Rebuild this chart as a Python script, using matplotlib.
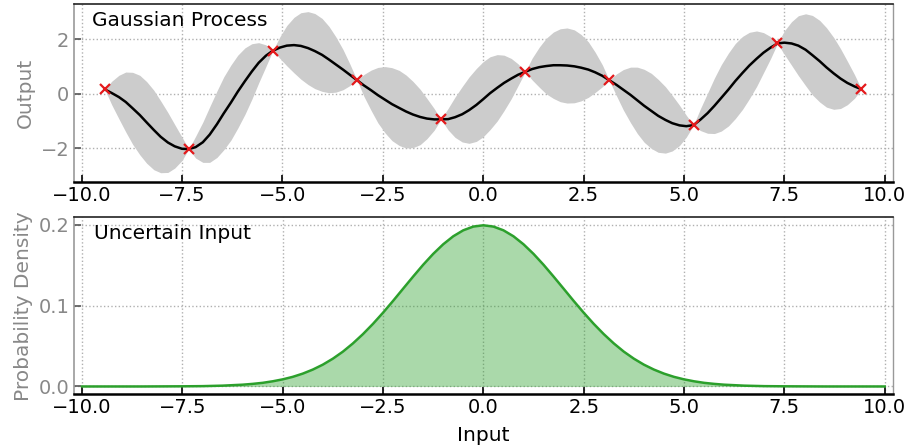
import matplotlib
matplotlib.use("Agg")
import matplotlib.pyplot as plt

# points d'entrainement (rouge)
x_train = [-9.42, -7.33, -5.24, -3.14, -1.05, 1.05, 3.14, 5.24, 7.33, 9.42]
y_train = [0.16, -2.03, 1.58, 0.50, -0.94, 0.81, 0.50, -1.15, 1.85, 0.17]

# moyenne du processus gaussien (12 pas par intervalle)
x_gp = [-9.42, -9.25, -9.07, -8.90, -8.73, -8.55, -8.38, -8.20, -8.03, -7.85, -7.68, -7.50,
        -7.33, -7.16, -6.98, -6.81, -6.63, -6.46, -6.28, -6.11, -5.93, -5.76, -5.59, -5.41,
        -5.24, -5.06, -4.89, -4.71, -4.54, -4.36, -4.19, -4.01, -3.84, -3.67, -3.49, -3.32,
        -3.14, -2.97, -2.79, -2.62, -2.44, -2.27, -2.09, -1.92, -1.75, -1.57, -1.40, -1.22,
        -1.05, -0.87, -0.70, -0.52, -0.35, -0.17, 0.00, 0.17, 0.35, 0.52, 0.70, 0.87,
        1.05, 1.22, 1.40, 1.57, 1.75, 1.92, 2.09, 2.27, 2.44, 2.62, 2.79, 2.97,
        3.14, 3.32, 3.49, 3.67, 3.84, 4.01, 4.19, 4.36, 4.54, 4.71, 4.89, 5.06,
        5.24, 5.41, 5.59, 5.76, 5.93, 6.11, 6.28, 6.46, 6.63, 6.81, 6.98, 7.16,
        7.33, 7.50, 7.68, 7.85, 8.03, 8.20, 8.38, 8.55, 8.73, 8.90, 9.07, 9.25, 9.42]
mean_gp = [0.16, 0.03, -0.12, -0.30, -0.53, -0.78, -1.05, -1.33, -1.58, -1.79, -1.93, -2.02,
           -2.03, -1.96, -1.78, -1.50, -1.12, -0.72, -0.32, 0.08, 0.47, 0.82, 1.14, 1.40,
           1.58, 1.70, 1.77, 1.79, 1.76, 1.68, 1.57, 1.43, 1.26, 1.08, 0.89, 0.70,
           0.50, 0.31, 0.13, -0.05, -0.22, -0.38, -0.52, -0.65, -0.76, -0.85, -0.91, -0.94,
           -0.94, -0.93, -0.86, -0.75, -0.60, -0.41, -0.20, 0.02, 0.22, 0.40, 0.56, 0.70,
           0.81, 0.91, 0.98, 1.02, 1.05, 1.05, 1.04, 1.01, 0.96, 0.89, 0.79, 0.66,
           0.50, 0.33, 0.15, -0.04, -0.24, -0.44, -0.63, -0.81, -0.96, -1.08, -1.16, -1.19,
           -1.15, -0.95, -0.71, -0.44, -0.15, 0.16, 0.47, 0.77, 1.04, 1.29, 1.51, 1.70,
           1.85, 1.88, 1.85, 1.77, 1.62, 1.42, 1.20, 0.97, 0.75, 0.56, 0.40, 0.27, 0.17]
# demi-largeur de la bande grise
half_gp = [0.0, 0.43, 0.80, 1.10, 1.32, 1.46, 1.50, 1.46, 1.32, 1.10, 0.80, 0.43,
           0.0, 0.40, 0.74, 1.02, 1.22, 1.34, 1.38, 1.34, 1.22, 1.02, 0.74, 0.40,
           0.0, 0.40, 0.74, 1.02, 1.22, 1.34, 1.38, 1.34, 1.22, 1.02, 0.74, 0.40,
           0.0, 0.40, 0.74, 1.02, 1.22, 1.34, 1.38, 1.34, 1.22, 1.02, 0.74, 0.40,
           0.0, 0.40, 0.74, 1.02, 1.22, 1.34, 1.38, 1.34, 1.22, 1.02, 0.74, 0.40,
           0.0, 0.40, 0.74, 1.02, 1.22, 1.34, 1.38, 1.34, 1.22, 1.02, 0.74, 0.40,
           0.0, 0.40, 0.74, 1.02, 1.22, 1.34, 1.38, 1.34, 1.22, 1.02, 0.74, 0.40,
           0.0, 0.40, 0.74, 1.02, 1.22, 1.34, 1.38, 1.34, 1.22, 1.02, 0.74, 0.40,
           0.0, 0.43, 0.80, 1.10, 1.32, 1.46, 1.50, 1.46, 1.32, 1.10, 0.80, 0.43, 0.0]

# densite de l'entree incertaine
x_pdf = [-10.0, -9.5, -9.0, -8.5, -8.0, -7.5, -7.0, -6.5,
         -6.0, -5.75, -5.5, -5.25, -5.0, -4.75, -4.5, -4.25,
         -4.0, -3.75, -3.5, -3.25, -3.0, -2.75, -2.5, -2.25,
         -2.0, -1.75, -1.5, -1.25, -1.0, -0.75, -0.5, -0.25,
         0.0, 0.25, 0.5, 0.75, 1.0, 1.25, 1.5, 1.75,
         2.0, 2.25, 2.5, 2.75, 3.0, 3.25, 3.5, 3.75,
         4.0, 4.25, 4.5, 4.75, 5.0, 5.25, 5.5, 5.75,
         6.0, 6.5, 7.0, 7.5, 8.0, 8.5, 9.0, 9.5, 10.0]
dens_pdf = [0.0000, 0.0000, 0.0000, 0.0000, 0.0001, 0.0002, 0.0004, 0.0010,
            0.0022, 0.0032, 0.0045, 0.0064, 0.0088, 0.0119, 0.0159, 0.0209,
            0.0270, 0.0344, 0.0431, 0.0533, 0.0648, 0.0775, 0.0913, 0.1059,
            0.1210, 0.1360, 0.1506, 0.1641, 0.1760, 0.1859, 0.1933, 0.1979,
            0.1995, 0.1979, 0.1933, 0.1859, 0.1760, 0.1641, 0.1506, 0.1360,
            0.1210, 0.1059, 0.0913, 0.0775, 0.0648, 0.0533, 0.0431, 0.0344,
            0.0270, 0.0209, 0.0159, 0.0119, 0.0088, 0.0064, 0.0045, 0.0032,
            0.0022, 0.0010, 0.0004, 0.0002, 0.0001, 0.0000, 0.0000, 0.0000, 0.0000]

x_ticks = [-10.0, -7.5, -5.0, -2.5, 0.0, 2.5, 5.0, 7.5, 10.0]


def style_axe(ax):
    ax.grid(True, linestyle=":", color="#b0b0b0", linewidth=1.0)
    ax.set_axisbelow(True)
    ax.spines["bottom"].set_color("black")
    ax.spines["bottom"].set_linewidth(1.8)
    ax.spines["top"].set_color("#222222")
    ax.spines["top"].set_linewidth(1.2)
    ax.spines["left"].set_color("#999999")
    ax.spines["left"].set_linewidth(1.2)
    ax.spines["right"].set_color("#999999")
    ax.spines["right"].set_linewidth(1.0)
    ax.tick_params(axis="x", direction="in", length=5, width=1.2,
                   colors="black", labelsize=14, pad=3)
    ax.tick_params(axis="y", direction="in", length=5, width=1.2,
                   color="#555555", labelcolor="#888888", labelsize=14, pad=3)
    ax.set_xticks(x_ticks)
    ax.set_xlim(-10.2, 10.2)


fig = plt.figure(figsize=(9.09, 4.46), dpi=100)
ax1 = fig.add_axes([0.0809, 0.5926, 0.9012, 0.3984])
ax2 = fig.add_axes([0.0814, 0.1159, 0.9007, 0.3969])

# panneau du haut : processus gaussien
lower = [m - h for m, h in zip(mean_gp, half_gp)]
upper = [m + h for m, h in zip(mean_gp, half_gp)]
ax1.fill_between(x_gp, lower, upper, color="#cccccc", linewidth=0)
ax1.plot(x_gp, mean_gp, "k-", linewidth=1.8)
ax1.plot(x_train, y_train, "x", color="#e41a1c", markersize=7, mew=1.6)
style_axe(ax1)
ax1.set_ylim(-3.23, 3.3)
ax1.set_yticks([-2, 0, 2])
ax1.set_ylabel("Output", fontsize=14.5, color="#888888", labelpad=4)
ax1.text(0.023, 0.91, "Gaussian Process", transform=ax1.transAxes,
         fontsize=14.5, va="center", ha="left")

# panneau du bas : entree incertaine
ax2.fill_between(x_pdf, 0, dens_pdf, color="#2ca02c", alpha=0.4, linewidth=0)
ax2.plot(x_pdf, dens_pdf, "-", color="#2ca02c", linewidth=1.8)
style_axe(ax2)
ax2.set_ylim(-0.0097, 0.2094)
ax2.set_yticks([0.0, 0.1, 0.2])
ax2.set_ylabel("Probability Density", fontsize=14.5, color="#888888", labelpad=4)
ax2.set_xlabel("Input", fontsize=14.5, labelpad=6)
ax2.text(0.024, 0.908, "Uncertain Input", transform=ax2.transAxes,
         fontsize=14.5, va="center", ha="left")

fig.savefig("out.png", dpi=100)
